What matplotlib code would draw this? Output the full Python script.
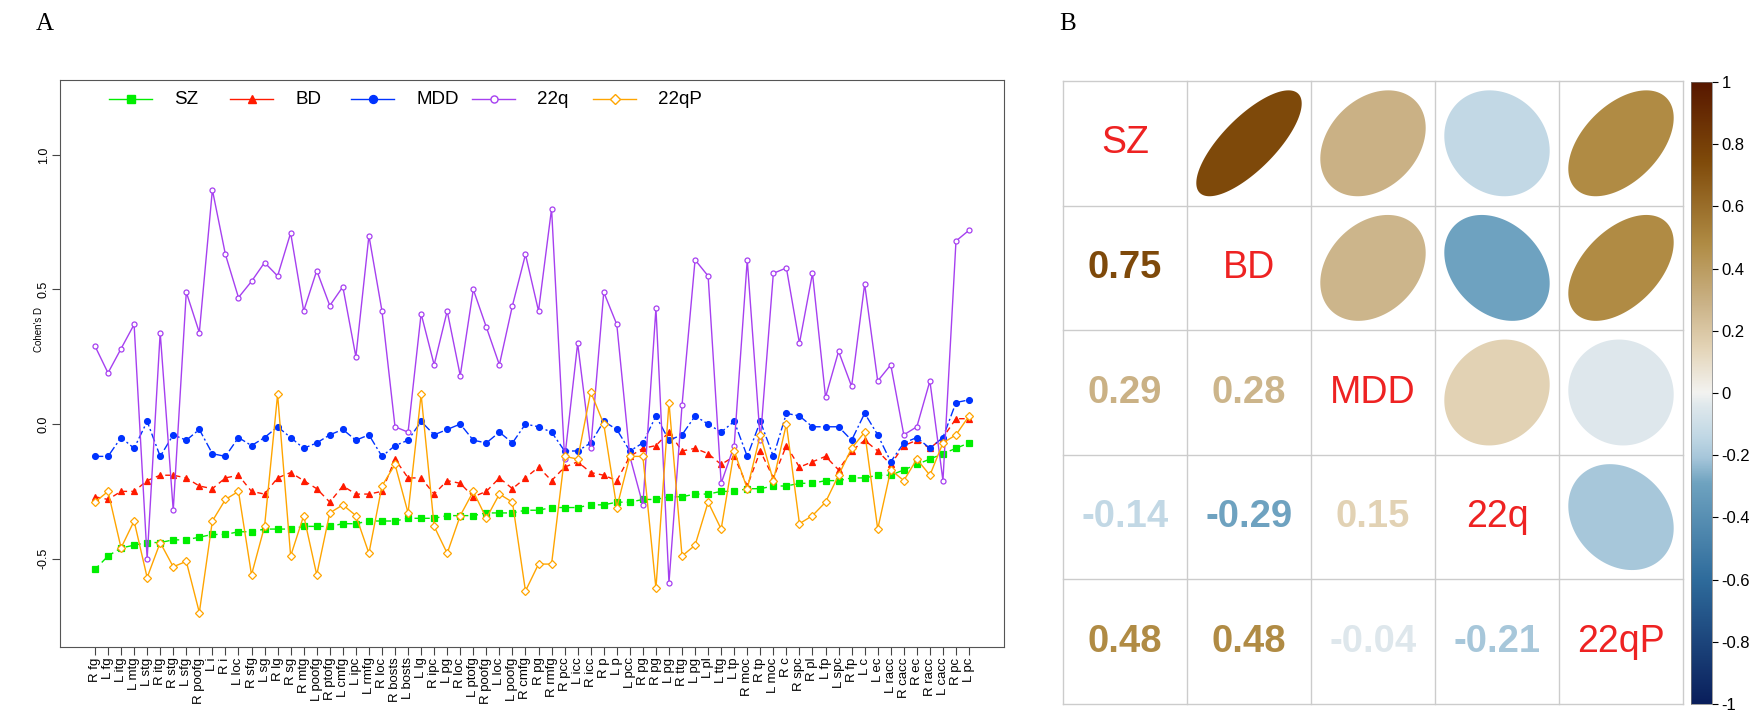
import numpy as np
import matplotlib
matplotlib.use("Agg")
import matplotlib.pyplot as plt
from matplotlib.colors import LinearSegmentedColormap, Normalize
from matplotlib.patches import Polygon

plt.rcParams["font.family"] = ["Liberation Sans", "DejaVu Sans"]

# ---- panel A data: Cohen's D per region ----
regions = [
    "R fg", "L fg", "L itg", "L mtg", "L stg", "R itg", "R stg", "L sfg", "R poofg", "L i",
    "R i", "L loc", "R sfg", "L sg", "R lg", "R sg", "R mtg", "L poofg", "R ptofg", "L cmfg",
    "L ipc", "L rmfg", "R loc", "R bosts", "L bosts", "L lg", "R ipc", "L pg", "R loc", "L ptofg",
    "R poofg", "L loc", "L poofg", "R cmfg", "R pg", "R rmfg", "R pcc", "L icc", "R icc", "R p",
    "L p", "L pcc", "R pg", "R pg", "L pg", "R ttg", "L pg", "L pl", "L ttg", "L tp",
    "R moc", "R tp", "L moc", "R c", "R spc", "R pl", "L fp", "L spc", "R fp", "L c",
    "L ec", "L racc", "R cacc", "R ec", "R racc", "L cacc", "R pc", "L pc",
]

sz = [
    -0.54, -0.49, -0.46, -0.45, -0.44, -0.44, -0.43, -0.43, -0.42, -0.41,
    -0.41, -0.40, -0.40, -0.39, -0.39, -0.39, -0.38, -0.38, -0.38, -0.37,
    -0.37, -0.36, -0.36, -0.36, -0.35, -0.35, -0.35, -0.34, -0.34, -0.34,
    -0.33, -0.33, -0.33, -0.32, -0.32, -0.31, -0.31, -0.31, -0.30, -0.30,
    -0.29, -0.29, -0.28, -0.28, -0.27, -0.27, -0.26, -0.26, -0.25, -0.25,
    -0.24, -0.24, -0.23, -0.23, -0.22, -0.22, -0.21, -0.21, -0.20, -0.20,
    -0.19, -0.19, -0.17, -0.15, -0.13, -0.11, -0.09, -0.07,
]

bd = [
    -0.27, -0.28, -0.25, -0.25, -0.21, -0.19, -0.19, -0.20, -0.23, -0.24,
    -0.20, -0.19, -0.25, -0.26, -0.20, -0.18, -0.21, -0.24, -0.29, -0.23,
    -0.26, -0.26, -0.25, -0.13, -0.20, -0.20, -0.26, -0.21, -0.22, -0.27,
    -0.25, -0.20, -0.24, -0.20, -0.16, -0.21, -0.16, -0.14, -0.18, -0.19,
    -0.21, -0.12, -0.09, -0.08, -0.03, -0.10, -0.09, -0.11, -0.15, -0.12,
    -0.23, -0.10, -0.20, -0.08, -0.16, -0.14, -0.12, -0.17, -0.10, -0.06,
    -0.10, -0.15, -0.08, -0.06, -0.09, -0.05, 0.02, 0.02,
]

mdd = [
    -0.12, -0.12, -0.05, -0.09, 0.01, -0.12, -0.04, -0.06, -0.02, -0.11,
    -0.12, -0.05, -0.08, -0.05, -0.01, -0.05, -0.09, -0.07, -0.04, -0.02,
    -0.06, -0.04, -0.12, -0.08, -0.06, 0.01, -0.04, -0.02, 0.00, -0.06,
    -0.07, -0.03, -0.07, 0.00, -0.01, -0.03, -0.10, -0.10, -0.07, 0.01,
    -0.02, -0.10, -0.07, 0.03, -0.06, -0.04, 0.03, 0.00, -0.03, 0.01,
    -0.12, 0.01, -0.12, 0.04, 0.03, -0.01, -0.01, -0.01, -0.06, 0.04,
    -0.04, -0.14, -0.07, -0.05, -0.09, -0.05, 0.08, 0.09,
]

q22 = [
    0.29, 0.19, 0.28, 0.37, -0.50, 0.34, -0.32, 0.49, 0.34, 0.87,
    0.63, 0.47, 0.53, 0.60, 0.55, 0.71, 0.42, 0.57, 0.44, 0.51,
    0.25, 0.70, 0.42, -0.01, -0.03, 0.41, 0.22, 0.42, 0.18, 0.50,
    0.36, 0.22, 0.44, 0.63, 0.42, 0.80, -0.13, 0.30, -0.09, 0.49,
    0.37, -0.12, -0.30, 0.43, -0.59, 0.07, 0.61, 0.55, -0.22, -0.08,
    0.61, -0.06, 0.56, 0.58, 0.30, 0.56, 0.10, 0.27, 0.14, 0.52,
    0.16, 0.22, -0.04, -0.01, 0.16, -0.21, 0.68, 0.72,
]

q22p = [
    -0.29, -0.25, -0.46, -0.36, -0.57, -0.44, -0.53, -0.51, -0.70, -0.36,
    -0.28, -0.25, -0.56, -0.38, 0.11, -0.49, -0.34, -0.56, -0.33, -0.30,
    -0.34, -0.48, -0.23, -0.15, -0.33, 0.11, -0.38, -0.48, -0.34, -0.25,
    -0.35, -0.26, -0.29, -0.62, -0.52, -0.52, -0.12, -0.13, 0.12, 0.00,
    -0.31, -0.12, -0.12, -0.61, 0.08, -0.49, -0.45, -0.29, -0.39, -0.10,
    -0.24, -0.04, -0.21, 0.00, -0.37, -0.34, -0.29, -0.19, -0.09, -0.03,
    -0.39, -0.17, -0.21, -0.13, -0.19, -0.07, -0.04, 0.03,
]

# ---- panel B data: correlation between groups ----
groups = ["SZ", "BD", "MDD", "22q", "22qP"]
corr = np.array([
    [1.00, 0.75, 0.29, -0.14, 0.48],
    [0.75, 1.00, 0.28, -0.29, 0.48],
    [0.29, 0.28, 1.00, 0.15, -0.04],
    [-0.14, -0.29, 0.15, 1.00, -0.21],
    [0.48, 0.48, -0.04, -0.21, 1.00],
])

series = [
    ("SZ", sz, "#00EE00", (0, (4, 3)), "s", True, 4.0),
    ("BD", bd, "#FF1A00", (0, (4, 3)), "^", True, 4.5),
    ("MDD", mdd, "#0033FF", (0, (6, 2, 1.5, 2)), "o", True, 4.2),
    ("22q", q22, "#A640F0", "-", "o", False, 3.6),
    ("22qP", q22p, "#FFA500", "-", "D", False, 3.6),
]

fig = plt.figure(figsize=(17.58, 7.15), dpi=100)

# ---------------- panel A ----------------
ax = fig.add_axes([60 / 1758, 1 - 647 / 715, 944 / 1758, 567 / 715])
n = len(regions)
x = np.arange(1, n + 1)
for name, vals, col, ls, mk, filled, ms in series:
    ax.plot(x, vals, color=col, linestyle=ls, linewidth=1.0, marker=mk,
            markersize=ms, markerfacecolor=col if filled else "white",
            markeredgecolor=col, markeredgewidth=0.9)

pad = 0.04 * (n - 1)
ax.set_xlim(1 - pad, n + pad)
ax.set_ylim(-0.828, 1.278)
ax.set_xticks(x)
ax.set_xticklabels(regions, rotation=90, fontsize=9.5)
ax.set_yticks([-0.5, 0.0, 0.5, 1.0])
ax.set_yticklabels(["-0.5", "0.0", "0.5", "1.0"], rotation=90, va="center", fontsize=9)
ax.tick_params(direction="out", length=5.5, width=0.8, color="#444444", pad=2)
for sp in ax.spines.values():
    sp.set_color("#555555")
    sp.set_linewidth(0.8)
ax.set_ylabel("Cohen's D", fontsize=7)
ax.yaxis.set_label_coords(-0.017, 0.56)

# legend drawn R-style: equal spacing, no frame
leg_y = 0.966
for k, (name, vals, col, ls, mk, filled, ms) in enumerate(series):
    x0 = 0.052 + k * 0.1282
    ax.plot([x0, x0 + 0.0455], [leg_y, leg_y], transform=ax.transAxes, color=col, lw=1.0)
    ax.plot([x0 + 0.0455 / 2], [leg_y], transform=ax.transAxes, marker=mk,
            markersize=ms + 1.5, color=col, markerfacecolor=col if filled else "white",
            markeredgewidth=1.0)
    ax.text(x0 + 0.0689, leg_y, name, transform=ax.transAxes, va="center", ha="left",
            fontsize=13.5)

# ---------------- panel B ----------------
cmap = LinearSegmentedColormap.from_list("brbu", [
    (0.000, "#0A1F5C"),
    (0.200, "#2F6C9C"),
    (0.355, "#6FA3C0"),
    (0.395, "#A6C6DA"),
    (0.430, "#C1D8E5"),
    (0.480, "#DFE8EC"),
    (0.500, "#F3F3F1"),
    (0.575, "#E3D3B5"),
    (0.643, "#CBB388"),
    (0.740, "#B08C45"),
    (0.875, "#7F4A0A"),
    (1.000, "#581800"),
])
norm = Normalize(-1, 1)

axb = fig.add_axes([1063 / 1758, 1 - 704 / 715, 620 / 1758, 623 / 715])
axb.set_xlim(0, 5)
axb.set_ylim(0, 5)
axb.axis("off")
for v in range(6):
    axb.plot([v, v], [0, 5], color="#CCCCCC", lw=1.0, clip_on=False)
    axb.plot([0, 5], [v, v], color="#CCCCCC", lw=1.0, clip_on=False)

t = np.linspace(0, 2 * np.pi, 120)
for i in range(5):
    for j in range(5):
        cx, cy = j + 0.5, 4 - i + 0.5
        r = corr[i, j]
        if i == j:
            axb.text(cx, cy, groups[i], ha="center", va="center", fontsize=27, color="#EE2222")
        elif j > i:
            d = np.arccos(r)
            ex = 0.85 * np.cos(t + d / 2) / 2
            ey = 0.85 * np.cos(t - d / 2) / 2
            axb.add_patch(Polygon(np.column_stack([cx + ex, cy + ey]), closed=True,
                                  facecolor=cmap(norm(r)), edgecolor="none"))
        else:
            axb.text(cx, cy, f"{r:.2f}", ha="center", va="center", fontsize=27.5,
                     fontweight="bold", color=cmap(norm(r)))

cax = fig.add_axes([1691 / 1758, 1 - 704 / 715, 21 / 1758, 622 / 715])
grad = np.linspace(-1, 1, 256).reshape(-1, 1)
cax.imshow(grad, cmap=cmap, norm=norm, aspect="auto", origin="lower", extent=[0, 1, -1, 1])
cax.set_xticks([])
cax.yaxis.tick_right()
cb_ticks = np.round(np.arange(-1, 1.01, 0.2), 1)
cax.set_yticks(cb_ticks)
cax.set_yticklabels([("0" if abs(v) < 1e-9 else f"{v:g}") for v in cb_ticks], fontsize=12)
cax.tick_params(direction="out", length=4, width=0.8, pad=3)
for sp in cax.spines.values():
    sp.set_linewidth(0.5)
    sp.set_color("#777777")

fig.text(45 / 1758, 1 - 24 / 715, "A", fontsize=18, family="Liberation Serif",
         ha="center", va="center")
fig.text(1068 / 1758, 1 - 24 / 715, "B", fontsize=18, family="Liberation Serif",
         ha="center", va="center")

fig.savefig("out.png", dpi=100)
